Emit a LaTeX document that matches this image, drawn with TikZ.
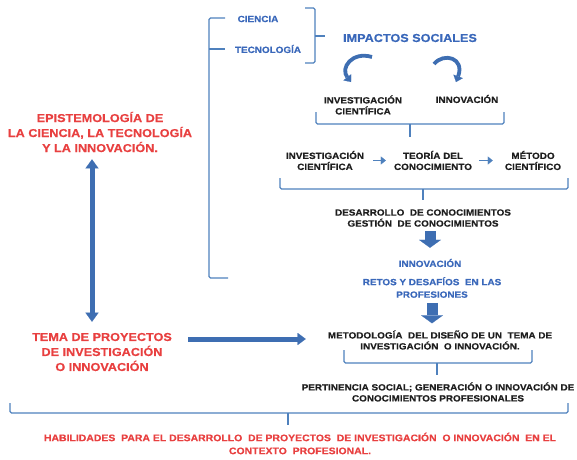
\documentclass[tikz,border=0pt]{standalone}
\usepackage{fontspec}
\setmainfont{Liberation Sans}[FakeStretch=1.1, BoldFeatures={FakeBold=0.5}]
\usetikzlibrary{arrows.meta}
\definecolor{lineblue}{RGB}{79,129,189}
\definecolor{arrowblue}{RGB}{62,110,178}
\definecolor{txtblue}{RGB}{58,104,186}
\definecolor{txtred}{RGB}{232,64,64}
\definecolor{txtblack}{RGB}{30,30,30}
\tikzset{
 brace/.style={draw=lineblue, line width=1.3pt, rounded corners=1.5pt},
 blk/.style={font=\bfseries\fontsize{9}{11}\selectfont, align=center, inner sep=0pt, text=txtblack},
 bluet/.style={font=\bfseries\fontsize{9}{12.5}\selectfont, align=center, inner sep=0pt, text=txtblue},
 bluebig/.style={font=\bfseries\fontsize{11.5}{14}\selectfont, align=center, inner sep=0pt, text=txtblue},
 redt/.style={font=\bfseries\fontsize{11.5}{15}\selectfont, align=center, inner sep=0pt, text=txtred},
 redsmall/.style={font=\bfseries\fontsize{9.5}{13}\selectfont, align=center, inner sep=0pt, text=txtred},
 fatdown/.style={arrowblue, line width=11pt, -{Triangle[length=8pt,width=22pt,line width=0.1pt]}},
 thinarrow/.style={lineblue, line width=1.6pt, -{Triangle[length=5pt,width=8pt,line width=0.1pt]}},
 dblarrow/.style={arrowblue, line width=5pt, {Triangle[length=9pt,width=13pt,line width=0.1pt]}-{Triangle[length=9pt,width=13pt,line width=0.1pt]}},
 harrow/.style={arrowblue, line width=5pt, -{Triangle[length=8pt,width=12pt,line width=0.1pt]}},
 curv/.style={arrowblue, line width=3.8pt, -{Triangle[length=6pt,width=10pt,line width=0.1pt]}},
}
\begin{document}
\begin{tikzpicture}[x=1pt,y=-1pt]
\useasboundingbox (0,0) rectangle (577,459);

% texts
\node[bluet] (ciencia) at (258,19) {CIENCIA};
\node[bluet] (tecno) at (268,49) {TECNOLOGÍA};
\node[bluebig] (impactos) at (410,38) {IMPACTOS SOCIALES};
\node[blk] (inv1) at (363,105) {INVESTIGACIÓN\\CIENTÍFICA};
\node[blk] (innov1) at (467,99) {INNOVACIÓN};
\node[blk] (inv2) at (325,160.5) {INVESTIGACIÓN\\CIENTÍFICA};
\node[blk] (teoria) at (433,160.5) {TEORÍA DEL\\CONOCIMIENTO};
\node[blk] (metodo) at (533,160.5) {MÉTODO\\CIENTÍFICO};
\node[blk] (desarrollo) at (423,218) {DESARROLLO\ \ DE CONOCIMIENTOS\\GESTIÓN\ \ DE CONOCIMIENTOS};
\node[bluet] (innov2) at (430,263) {INNOVACIÓN};
\node[bluet] (retos) at (432,287.5) {RETOS Y DESAFÍOS\ \ EN LAS\\PROFESIONES};
\node[blk] (metodologia) at (440,340) {METODOLOGÍA\ \ DEL\ DISEÑO DE UN\ \ TEMA DE\\INVESTIGACIÓN\ \ O INNOVACIÓN.};
\node[blk] (pertinencia) at (438,392) {PERTINENCIA SOCIAL; GENERACIÓN O INNOVACIÓN DE\\CONOCIMIENTOS PROFESIONALES};
\node[redt] (epist) at (100,132) {EPISTEMOLOGÍA DE\\LA CIENCIA, LA TECNOLOGÍA\\Y LA INNOVACIÓN.};
\node[redt] (tema) at (102,352) {TEMA DE PROYECTOS\\DE INVESTIGACIÓN\\O INNOVACIÓN};
\node[redsmall] (habil) at (300,443.5) {HABILIDADES\ \ PARA EL DESARROLLO\ \ DE PROYECTOS\ \ DE INVESTIGACIÓN\ \ O INNOVACIÓN\ \ EN EL\\CONTEXTO\ \ PROFESIONAL.};

% brackets and braces
\draw[brace] (225,18) -- (209,18) -- (209,278) -- (228,278);
\draw[brace] (209,49) -- (225,49);
\draw[brace] (305,8) -- (315,8) -- (315,63) -- (305,63);
\draw[brace] (315,36) -- (325,36);
\draw[brace] (316,112) -- (316,124) -- (504,124) -- (504,112);
\draw[brace] (410,124) -- (410,137);
\draw[brace] (280,178) -- (280,189) -- (568,189) -- (568,178);
\draw[brace] (423,189) -- (423,200);
\draw[brace] (344,350) -- (344,363) -- (532,363) -- (532,350);
\draw[brace] (437,363) -- (437,375);
\draw[brace] (10,403) -- (10,413) -- (568,413) -- (568,403);
\draw[brace] (288,413) -- (288,425);

% curved arrows
\draw[curv] (372,57) .. controls (352,51) and (340,68) .. (351,82);
\draw[curv] (434,64) .. controls (444,52) and (465,58) .. (456,82);

% thin arrows
\draw[thinarrow, shorten <=9pt, shorten >=8pt] (inv2.east) -- (teoria.west);
\draw[thinarrow, shorten <=7pt, shorten >=12pt] (teoria.east) -- (metodo.west);

% fat down arrows
\draw[fatdown, shorten <=4.5pt, shorten >=11pt] (innov2.north |- desarrollo.south) -- (innov2.north);
\draw[fatdown, shorten <=5pt, shorten >=7pt] (retos.south) -- (retos.south |- metodologia.north);

% left arrows
\coordinate (dx) at (92,0);
\coordinate (hy) at (0,339);
\draw[dblarrow, shorten <=7pt, shorten >=11pt] (dx |- epist.south) -- (dx |- tema.north);
\draw[harrow, shorten <=16pt, shorten >=22pt] (tema.east |- hy) -- (metodologia.west |- hy);
\end{tikzpicture}
\end{document}
